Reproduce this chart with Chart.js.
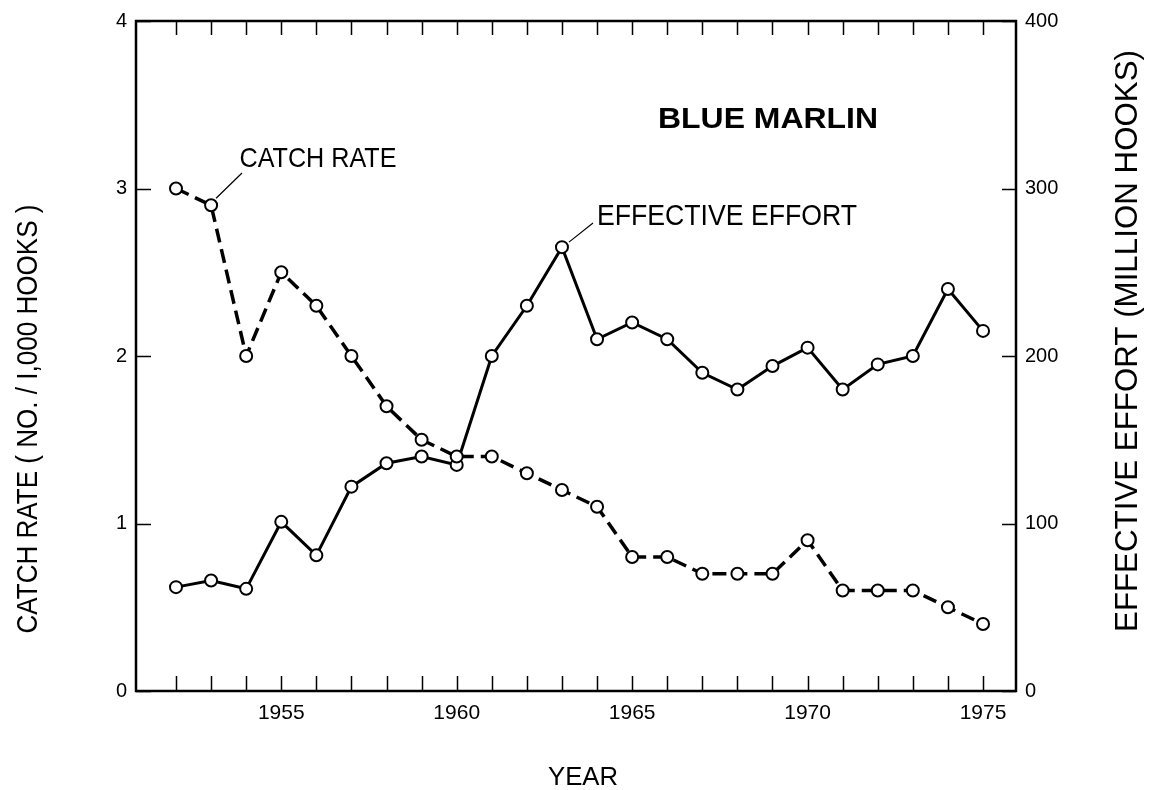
<!DOCTYPE html>
<html><head><meta charset="utf-8">
<script src="https://cdn.jsdelivr.net/npm/chart.js@4.4.0/dist/chart.umd.min.js"></script>
<style>html,body{margin:0;padding:0;background:#fff}#wrap{width:1155px;height:790px}</style>
</head><body><div id="wrap"><canvas id="c" width="1155" height="790"></canvas></div>
<script>
const years = [1952,1953,1954,1955,1956,1957,1958,1959,1960,1961,1962,1963,1964,1965,1966,1967,1968,1969,1970,1971,1972,1973,1974,1975];
const catchRate = [3.0,2.9,2.0,2.5,2.3,2.0,1.7,1.5,1.4,1.4,1.3,1.2,1.1,0.8,0.8,0.7,0.7,0.7,0.9,0.6,0.6,0.6,0.5,0.4];
const effectiveEffort = [62,66,61,101,81,122,136,140,135,200,230,265,210,220,210,190,180,194,205,180,195,200,240,215];
const xTickLabels = [1955,1960,1965,1970,1975];
const leftTicks = [0,1,2,3,4];
const rightTicks = [0,100,200,300,400];

const FONT = '"Liberation Sans", Arial, sans-serif';

function drawText(ctx, text, cx, cy, capH, width, rot, bold) {
  const size = capH / 0.716;
  ctx.save();
  ctx.font = (bold ? 'bold ' : '') + size + 'px ' + FONT;
  const w = ctx.measureText(text).width;
  ctx.translate(cx, cy);
  if (rot) ctx.rotate(rot);
  ctx.scale(width / w, 1);
  ctx.textAlign = 'center';
  ctx.textBaseline = 'alphabetic';
  ctx.fillStyle = '#000';
  ctx.fillText(text, 0, capH / 2);
  ctx.restore();
}

const decor = {
  id: 'decor',
  afterDatasetsDraw(chart) {
    const ctx = chart.ctx;
    const a = chart.chartArea;
    const sx = chart.scales.x, yl = chart.scales.y, yr = chart.scales.y2;
    ctx.save();
    ctx.strokeStyle = '#000';
    ctx.lineWidth = 2.5;
    ctx.strokeRect(a.left, a.top, a.right - a.left, a.bottom - a.top);
    ctx.lineWidth = 1.5;
    ctx.beginPath();
    years.forEach(yv => {
      const px = Math.round(sx.getPixelForValue(yv)) + 0.5;
      ctx.moveTo(px, a.bottom); ctx.lineTo(px, a.bottom - 15);
      ctx.moveTo(px, a.top); ctx.lineTo(px, a.top + 14);
    });
    leftTicks.forEach(v => {
      const py = Math.round(yl.getPixelForValue(v)) + 0.5;
      ctx.moveTo(a.left, py); ctx.lineTo(a.left + 15, py);
    });
    rightTicks.forEach(v => {
      const py = Math.round(yr.getPixelForValue(v)) + 0.5;
      ctx.moveTo(a.right, py); ctx.lineTo(a.right - 14, py);
    });
    ctx.stroke();

    // leader lines
    ctx.lineWidth = 1.2;
    ctx.beginPath();
    const p1x = sx.getPixelForValue(1953), p1y = yl.getPixelForValue(2.9);
    ctx.moveTo(p1x + 5, p1y - 7); ctx.lineTo(242, 173);
    const p2x = sx.getPixelForValue(1963), p2y = yr.getPixelForValue(265);
    ctx.moveTo(p2x + 7, p2y - 5); ctx.lineTo(593, 223);
    ctx.stroke();
    ctx.restore();

    drawText(ctx, 'BLUE MARLIN', 768, 117.5, 21, 220, 0, true);
    drawText(ctx, 'CATCH RATE', 318, 157, 20, 157, 0, false);
    drawText(ctx, 'EFFECTIVE EFFORT', 727, 214, 21, 260, 0, false);
    drawText(ctx, 'YEAR', 583, 775, 19, 70, 0, false);
    drawText(ctx, 'CATCH RATE ( NO. / I,000 HOOKS )', 26, 419, 21, 429, -Math.PI / 2, false);
    drawText(ctx, 'EFFECTIVE EFFORT (MILLION HOOKS)', 1126, 341, 22, 582, -Math.PI / 2, false);
  }
};

new Chart(document.getElementById('c'), {
  type: 'line',
  data: {
    datasets: [
      {
        label: 'Catch rate',
        data: years.map((yr, i) => ({x: yr, y: catchRate[i]})),
        yAxisID: 'y',
        borderColor: '#000',
        borderWidth: 3.5,
        borderDash: [14, 7],
        pointRadius: 6,
        pointBorderWidth: 2,
        pointBackgroundColor: '#fff',
        pointBorderColor: '#000',
        tension: 0
      },
      {
        label: 'Effective effort',
        data: years.map((yr, i) => ({x: yr, y: effectiveEffort[i]})),
        yAxisID: 'y2',
        borderColor: '#000',
        borderWidth: 3,
        pointRadius: 6,
        pointBorderWidth: 2,
        pointBackgroundColor: '#fff',
        pointBorderColor: '#000',
        tension: 0
      }
    ]
  },
  options: {
    responsive: false,
    animation: false,
    devicePixelRatio: 1,
    layout: {padding: {top: 21, left: 0, right: 0, bottom: 0}},
    plugins: {legend: {display: false}, tooltip: {enabled: false}},
    scales: {
      x: {
        type: 'linear',
        min: 1950.86,
        max: 1975.94,
        afterFit(s) { s.height = 99; },
        afterBuildTicks(s) { s.ticks = xTickLabels.map(v => ({value: v})); },
        grid: {display: false, drawTicks: false},
        border: {display: false},
        ticks: {color: '#000', padding: 10, font: {family: FONT, size: 21}, maxRotation: 0, callback: v => String(v)}
      },
      y: {
        position: 'left',
        min: 0, max: 4,
        afterFit(s) { s.width = 136; },
        afterBuildTicks(s) { s.ticks = leftTicks.map(v => ({value: v})); },
        grid: {display: false, drawTicks: false},
        border: {display: false},
        ticks: {color: '#000', padding: 9, font: {family: FONT, size: 20}}
      },
      y2: {
        position: 'right',
        min: 0, max: 400,
        afterFit(s) { s.width = 139; },
        afterBuildTicks(s) { s.ticks = rightTicks.map(v => ({value: v})); },
        grid: {display: false, drawTicks: false},
        border: {display: false},
        ticks: {color: '#000', padding: 9, font: {family: FONT, size: 20}}
      }
    }
  },
  plugins: [decor]
});
</script>
</body></html>
